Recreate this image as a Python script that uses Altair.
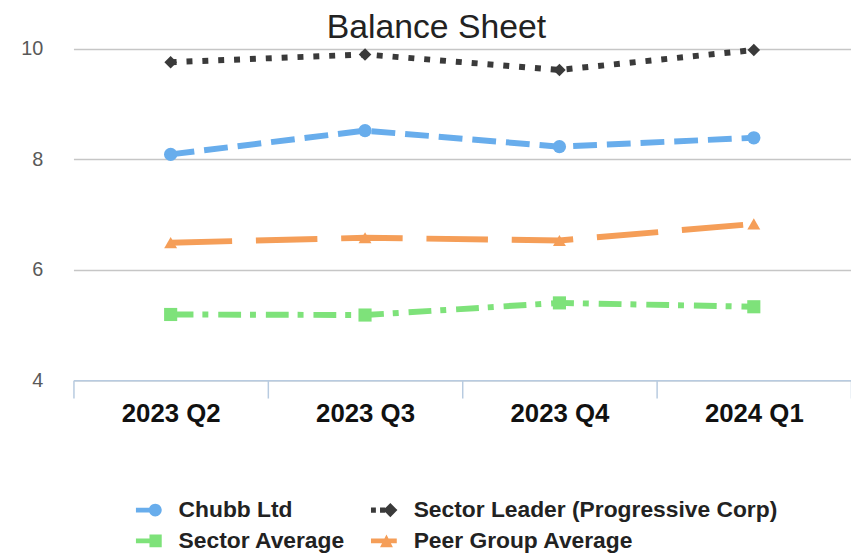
import altair as alt
import pandas as pd

quarters = ["2023 Q2", "2023 Q3", "2023 Q4", "2024 Q1"]
series_names = ["Chubb Ltd", "Sector Leader (Progressive Corp)", "Sector Average", "Peer Group Average"]
chubb = [8.09, 8.52, 8.23, 8.39]
leader = [9.76, 9.90, 9.62, 9.98]
sector_avg = [5.19, 5.18, 5.40, 5.33]
peer_avg = [6.49, 6.58, 6.53, 6.83]
y_ticks = [4, 6, 8, 10]

colors = ["#68adec", "#3a3a3a", "#7ee27a", "#f59e58"]
dashes = [[24, 10], [6, 10], [23, 9, 6, 10], [62, 24]]
marker_shapes = ["circle", "diamond", "square", "triangle-up"]
marker_sizes = [180, 160, 175, 170]
legend_paths = [
    "M-1,-0.19H0.1V0.19H-1Z M0,0A0.5,0.5 0 1,1 1,0A0.5,0.5 0 1,1 0,0Z",
    "M-1,-0.2H-0.62V0.2H-1Z M-0.3,-0.2H0.1V0.2H-0.3Z M-0.05,0L0.5,-0.55L1.05,0L0.5,0.55Z",
    "M-1,-0.19H0.1V0.19H-1Z M0.05,-0.5H1V0.5H0.05Z",
    "M-1,-0.19H1V0.19H-1Z M-0.3,0.5L0.2,-0.5L0.7,0.5Z",
]

rows = []
for name, vals in zip(series_names, [chubb, leader, sector_avg, peer_avg]):
    for q, v in zip(quarters, vals):
        rows.append({"quarter": q, "series": name, "value": v})
df = pd.DataFrame(rows)

x_enc = alt.X(
    "quarter:N",
    sort=quarters,
    scale=alt.Scale(type="band", domain=quarters, paddingInner=0, paddingOuter=0),
    axis=alt.Axis(
        title=None, labelAngle=0, labelFont="Liberation Sans", labelFontWeight="bold",
        labelFontSize=26, labelColor="#111111", labelPadding=3,
        domainColor="#b8cbe0", domainWidth=1.5, tickColor="#b8cbe0", tickWidth=1.5,
        tickSize=18, tickBand="extent", grid=False,
    ),
)
y_enc = alt.Y(
    "value:Q",
    scale=alt.Scale(domain=[4, 10], nice=False, zero=False),
    axis=alt.Axis(
        title=None, values=y_ticks, domain=False, ticks=False, labelFont="Liberation Sans",
        labelFontSize=20, labelColor="#595959", labelPadding=31,
        gridColor="#c6c6c6", gridWidth=1.5,
    ),
)
color_scale = alt.Scale(domain=series_names, range=colors)
legend_def = alt.Legend(
    title=None, orient="none", legendX=63, legendY=452, direction="horizontal",
    columns=2, gridAlign="none", columnPadding=26, rowPadding=6,
    symbolSize=676, symbolStrokeWidth=0, symbolOpacity=1, labelOffset=17,
    labelFont="Liberation Sans", labelFontWeight="bold", labelFontSize=23,
    labelColor="#222222", labelLimit=500,
)

base = alt.Chart(df)

legend_layer = base.mark_point(filled=True, opacity=0, size=10).encode(
    x=x_enc, y=y_enc,
    color=alt.Color("series:N", scale=color_scale, legend=legend_def),
    shape=alt.Shape("series:N", scale=alt.Scale(domain=series_names, range=legend_paths), legend=legend_def),
)

lines = base.mark_line(strokeWidth=6).encode(
    x=x_enc, y=y_enc,
    color=alt.Color("series:N", scale=color_scale),
    strokeDash=alt.StrokeDash("series:N", scale=alt.Scale(domain=series_names, range=dashes), legend=None),
)

point_layers = []
for name, shp, sz in zip(series_names, marker_shapes, marker_sizes):
    point_layers.append(
        base.transform_filter(alt.datum.series == name)
        .mark_point(filled=True, shape=shp, size=sz, opacity=1)
        .encode(x=x_enc, y=y_enc, color=alt.Color("series:N", scale=color_scale))
    )

chart = alt.layer(legend_layer, lines, *point_layers).properties(
    width=784,
    height=334,
    title=alt.TitleParams(
        "Balance Sheet", font="Liberation Sans", fontSize=34, fontWeight="normal",
        color="#222222", anchor="middle", dx=-26, dy=13, offset=6,
    ),
    autosize=alt.AutoSizeParams(type="none"),
    padding={"left": 66, "top": 39, "right": 0, "bottom": 174},
).configure_view(stroke=None)

chart.save("out.html", embed_options={"renderer": "svg", "actions": False})
